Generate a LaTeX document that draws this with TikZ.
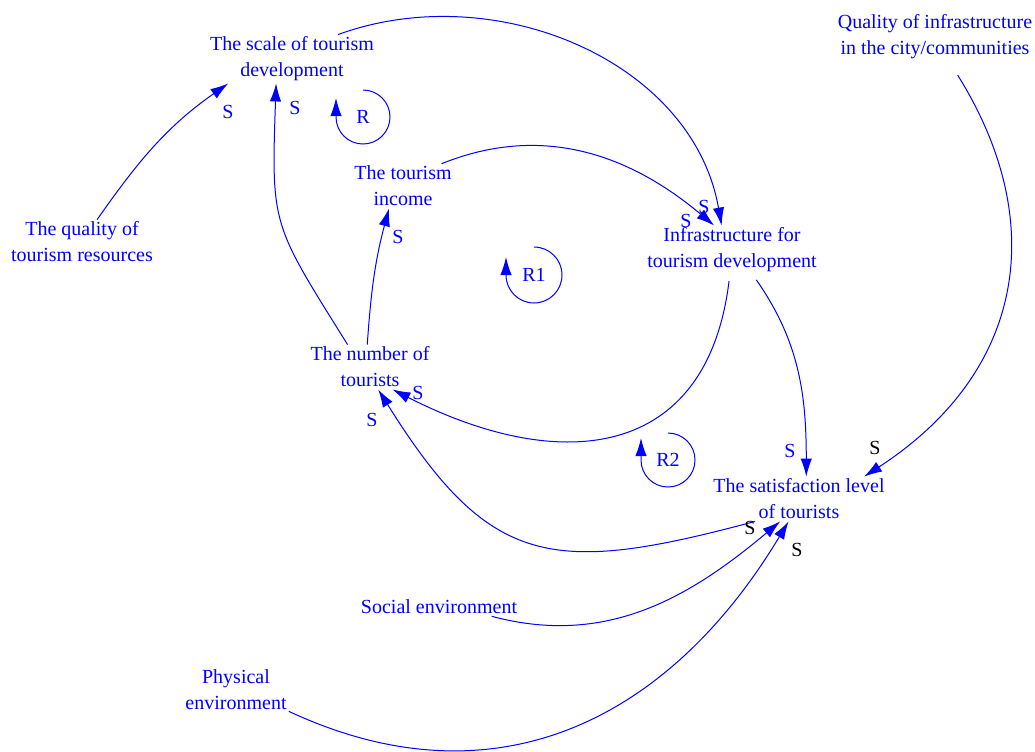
\documentclass[tikz,border=0pt]{standalone}
\usepackage{fontspec}
\setmainfont{Liberation Serif}
\usetikzlibrary{arrows.meta}
\begin{document}
\begin{tikzpicture}[x=0.75pt,y=-0.75pt,
    var/.style={text=blue, align=center, inner sep=1.5pt, font=\fontsize{15}{19.5}\selectfont},
    link/.style={draw=blue, line width=0.75pt, -{Latex[length=13.5pt,width=8.5pt]}},
    pol/.style={text=blue, inner sep=0pt, font=\fontsize{15}{18}\selectfont},
    polk/.style={pol, text=black},
    loopmark/.style={text=blue, inner sep=0pt, font=\fontsize{15}{18}\selectfont}]
  \useasboundingbox (0,0) rectangle (1035,751);

  % variables
  \node[var] (scale)  at (292,59)  {The scale of tourism\\development};
  \node[var] (qres)   at (82,242)  {The quality of\\tourism resources};
  \node[var] (income) at (403,186) {The tourism\\income};
  \node[var] (infra)  at (732,250) {Infrastructure for\\tourism development};
  \node[var] (number) at (370,367) {The number of\\tourists};
  \node[var] (sat)    at (799,499) {The satisfaction level\\of tourists};
  \node[var] (qinfra) at (935,37)  {Quality of infrastructure\\in the city/communities};
  \node[var] (social) at (439,607) {Social environment};
  \node[var] (phys)   at (236,690) {Physical\\environment};

  % links
  \draw[link] (qres.56) to[out=55, in=215] (scale.201);
  \draw[link] (number.135) to[out=122, in=268, looseness=1.35] (scale.237);
  \draw[link] (number.97) to[out=86, in=255] (income.238);
  \draw[link] (scale.28) to[out=20, in=100] (infra.113);
  \draw[link] (income.30) to[out=22, in=140] (infra.126);
  \draw[link, shorten <=5pt] (infra.-95) to[out=-97, in=-27, looseness=1.35] (number.-45);
  \draw[link, shorten <=5pt] (infra.-50) to[out=-55, in=90] (sat.72);
  \draw[link, shorten <=12pt] (qinfra.-60) to[out=-58, in=33, looseness=1.15] (sat.19);
  \draw[link] (sat.207) to[out=195, in=-58, looseness=1.35] (number.-70);
  \draw[link] (social.-10) to[out=-15, in=220] (sat.230);
  \draw[link] (phys.-22) to[out=-25, in=239, looseness=1.1] (sat.245);

  % polarities
  \node[pol] (s1) at (228,112) {S};
  \node[pol] (s2) at (295,108) {S};
  \node[pol] (s3) at (398,237) {S};
  \node[pol] (s4) at (704,207) {S};
  \node[pol] (s5) at (686,221) {S};
  \node[pol] (s6) at (418,393) {S};
  \node[pol] (s7) at (372,420) {S};
  \node[pol] (s8) at (790,451) {S};
  \node[polk] (s9) at (875,448) {S};
  \node[polk] (s10) at (750,528) {S};
  \node[polk] (s11) at (797,550) {S};

  % loops
  \node[loopmark] (loopR)  at (363,117) {R};
  \node[loopmark] (loopR1) at (534,275) {R1};
  \node[loopmark] (loopR2) at (668,460) {R2};
  \draw[link] ([yshift=20.25pt]loopR.center) arc[start angle=90, end angle=-180, radius=20.25pt] -- ++(0,-19);
  \draw[link] ([yshift=21pt]loopR1.center) arc[start angle=90, end angle=-180, radius=21pt] -- ++(0,-18);
  \draw[link] ([yshift=20.25pt]loopR2.center) arc[start angle=90, end angle=-180, radius=20.25pt] -- ++(0,-22);
\end{tikzpicture}
\end{document}
